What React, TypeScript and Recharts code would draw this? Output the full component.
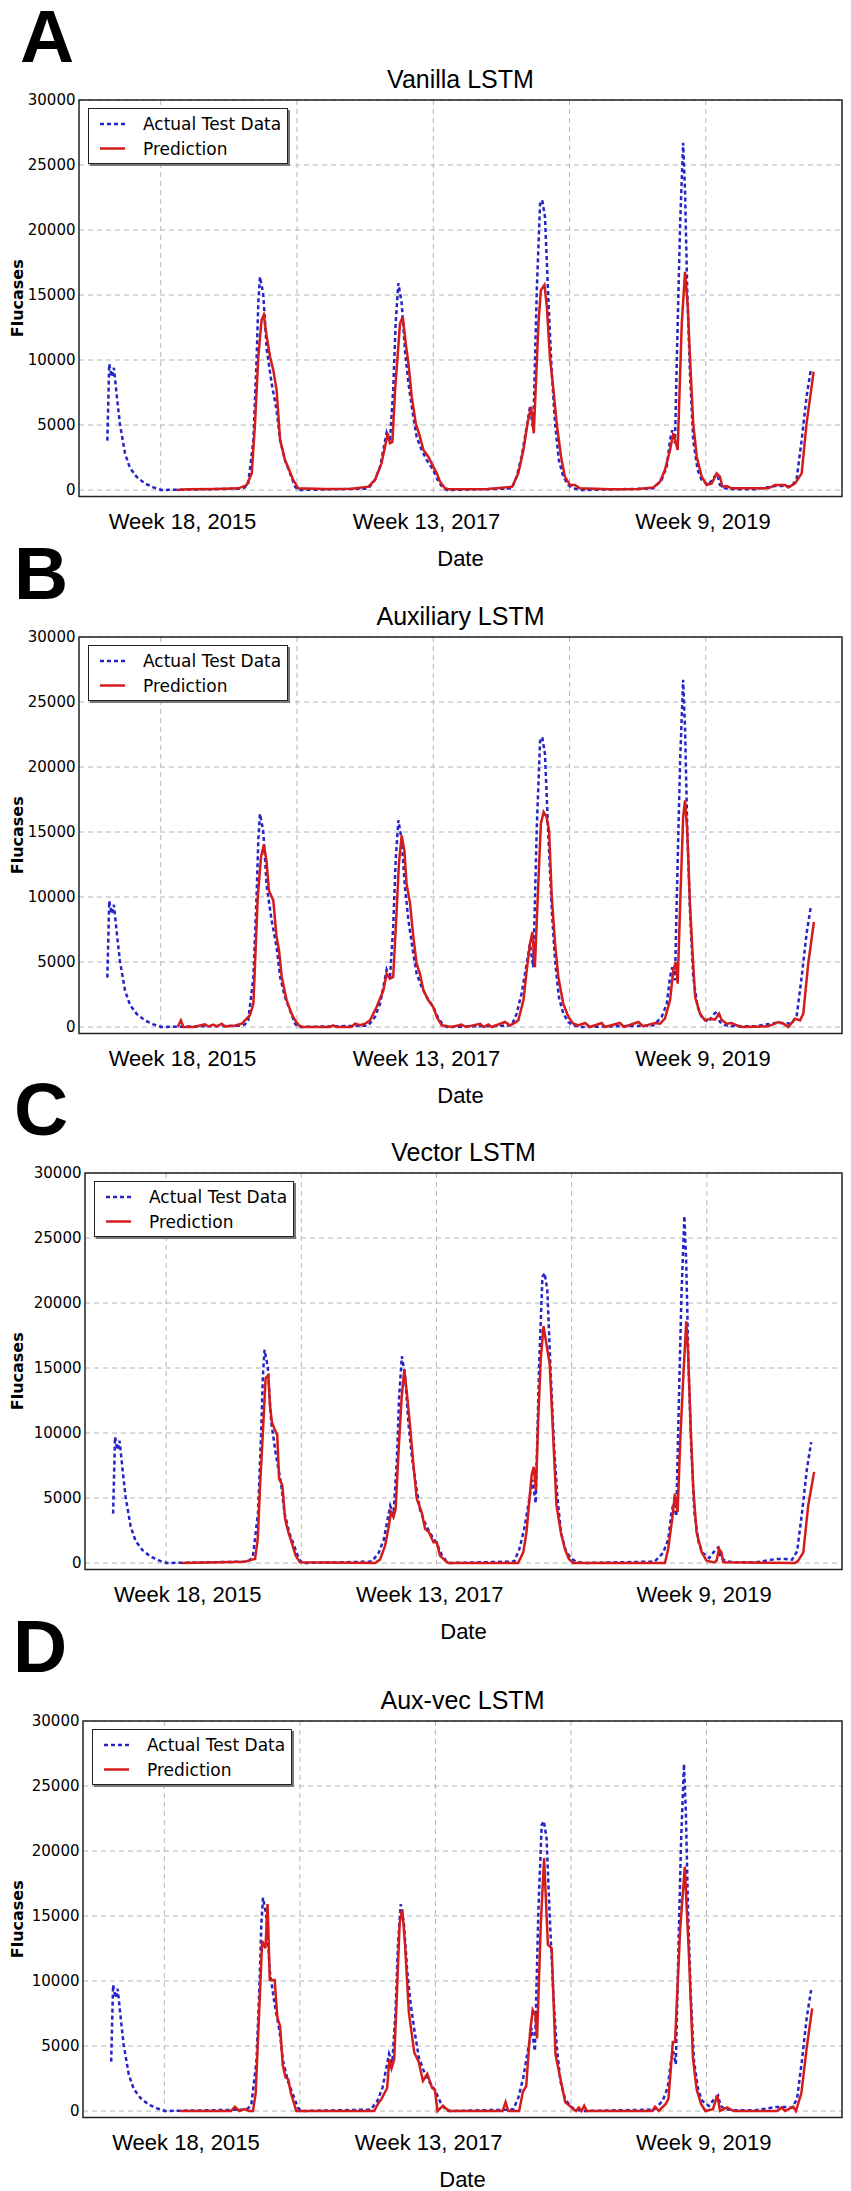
import { CartesianGrid, Line, LineChart, ReferenceArea, XAxis, YAxis } from "recharts"

// weekly flu cases, [week index, cases]
const actualCases: [number, number][] = [
  [30.4, 3800], [31.1, 9700], [32, 8700], [32.8, 9400], [34, 7000], [35, 5100], [36.9, 2800], [38.7, 1700],
  [41.2, 1000], [44.2, 500], [47.3, 200], [50.3, 0], [56, 20], [79, 100], [80.9, 200], [82.1, 500],
  [84, 3850], [85.2, 10250], [85.8, 14400], [86.4, 16400], [87.6, 15100], [88.9, 10800], [90.7, 8200],
  [92.5, 6150], [93.8, 3850], [95.6, 2300], [97.4, 1300], [99.3, 250], [100.5, 0], [125, 100], [126.2, 130],
  [128.6, 770], [130.5, 1800], [131.7, 3100], [132.9, 4400], [134.1, 3700], [135.3, 7700], [136.2, 12800],
  [137.2, 15900], [138.4, 14400], [139.6, 10800], [140.9, 8200], [142.3, 6150], [143.9, 4100], [145.7, 3100],
  [147.6, 2300], [150, 1550], [151.9, 650], [153.7, 130], [155, 0], [177, 100], [178.8, 130], [180.6, 1030],
  [182.4, 2560], [184.3, 4870], [185.5, 6400], [186.7, 4600], [188, 15400], [189.2, 22000], [190, 22300],
  [191, 21000], [192.2, 14900], [193.5, 9000], [194.7, 5100], [196.1, 2300], [197.7, 1030], [199.6, 380],
  [201.4, 130], [204.5, 0], [229, 100], [230.8, 130], [233.8, 770], [235.7, 1800], [236.9, 3850],
  [237.7, 4600], [238.7, 3600], [239.7, 12800], [240.6, 20500], [241.7, 26700], [242.4, 23000],
  [243.2, 15400], [244.2, 9000], [245.4, 3850], [247, 1550], [248.5, 770], [250.9, 380], [253.2, 1030],
  [254.3, 1200], [255.2, 385], [257.1, 130], [260.7, 50], [268, 50], [275.4, 300], [279, 300], [281.5, 250],
  [283.4, 900], [285.2, 3850], [287, 7200], [288.6, 9300],
]

const vanillaPred: [number, number][] = [
  [55.9, 0], [60, 50], [70, 80], [78.5, 130], [81.5, 380], [83.4, 1280], [84.6, 5130], [85.8, 10250],
  [87, 13080], [87.8, 13460], [88.9, 11800], [90.1, 10250], [91.3, 9230], [92.5, 7700], [93.8, 3850],
  [95.6, 2300], [97.4, 1400], [98.6, 770], [100.5, 130], [110, 80], [120, 100], [126.2, 256], [128.6, 770],
  [131, 2050], [132.3, 3330], [133.3, 4360], [134.1, 3600], [135, 3700], [136, 7700], [137.8, 12800],
  [138.8, 13330], [139.9, 11280], [140.9, 9740], [142.1, 7180], [143.6, 5130], [145.1, 4100], [146.4, 3080],
  [148.2, 2560], [150, 1800], [151.3, 1280], [152.5, 640], [154.3, 130], [156.1, 50], [170, 80], [179, 256],
  [181.2, 1280], [183.1, 3080], [184.6, 5130], [185.9, 6410], [186.9, 4360], [188.6, 12820], [189.5, 15380],
  [190.8, 15770], [191.7, 14100], [192.8, 10260], [194.1, 7700], [195.3, 5130], [196.9, 2560], [198.3, 1030],
  [200.2, 380], [202, 380], [203.8, 130], [215, 50], [225, 80], [230.8, 200], [233.2, 640], [235, 1540],
  [236.9, 3080], [238.1, 4360], [239.7, 3080], [241.2, 12820], [242.4, 16790], [243.4, 14100],
  [244.2, 10260], [245.4, 5130], [246.7, 2560], [248.5, 1030], [250.3, 385], [252.2, 510], [254, 1280],
  [255.2, 1030], [256.1, 256], [257.7, 300], [259.5, 130], [273, 130], [275.4, 385], [279.1, 385],
  [280.3, 200], [282.8, 510], [285.2, 1280], [287, 5130], [289.6, 9100],
]

const auxiliaryPred: [number, number][] = [
  [56.2, 0], [57.4, 510], [58.3, 0], [62, 0], [66.2, 200], [67.5, 50], [69.3, 180], [70.5, 30], [72.4, 250],
  [73.5, 50], [77, 100], [79.7, 250], [80.9, 510], [82.7, 900], [84, 1800], [84.6, 4870], [85.6, 10000],
  [86.8, 13080], [87.8, 14000], [88.8, 12820], [89.7, 10500], [91.3, 9740], [92.5, 6920], [93.4, 5900],
  [94.4, 3850], [96.2, 2050], [98, 1030], [99.3, 510], [100.7, 130], [102, 0], [112, 0], [113.3, 130],
  [114.5, 0], [120, 0], [121.3, 256], [123.1, 130], [125, 256], [126.8, 510], [129.2, 1540], [131.7, 2820],
  [132.9, 4100], [134.1, 3720], [135.3, 3850], [136.2, 7440], [137.4, 12560], [138.4, 14740], [139.4, 13590],
  [140.2, 11030], [141.5, 9490], [142.7, 6920], [143.9, 4870], [145.1, 4100], [146.4, 2820], [148.2, 2050],
  [150, 1540], [151.3, 770], [153.1, 130], [156.8, 0], [160.4, 180], [162, 0], [167.2, 250], [168.5, 0],
  [170.2, 200], [171.5, 0], [176.3, 385], [178.2, 130], [179.4, 250], [181.2, 510], [183.1, 2050],
  [184.3, 4360], [185.5, 6410], [186.4, 7300], [187.3, 4600], [188.6, 11280], [189.5, 15640], [190.5, 16540],
  [191.6, 16150], [192.5, 15130], [193.5, 10000], [194.7, 6410], [195.9, 3850], [197.7, 1800], [199.6, 770],
  [201.4, 256], [203.2, 130], [205.7, 310], [207.5, 0], [211.8, 310], [213, 0], [218.5, 310], [220, 0],
  [225.3, 385], [227.1, 50], [229.5, 200], [231.4, 310], [233.2, 256], [235, 640], [236.9, 2050],
  [238.1, 4360], [239, 5000], [239.7, 3330], [240.7, 10000], [241.7, 16150], [242.4, 17430], [243.2, 15130],
  [244.2, 9490], [245.1, 5900], [246.1, 2300], [247.9, 1030], [249.7, 510], [251.6, 640], [253.4, 560],
  [254.9, 1030], [255.8, 560], [257.7, 256], [259.5, 310], [261.3, 130], [263.2, 0], [273, 50],
  [276.6, 385], [278.5, 256], [280.3, 0], [282.8, 640], [284.6, 510], [285.8, 1030], [287.6, 4870],
  [289.7, 8080],
]

const vectorPred: [number, number][] = [
  [55.8, 0], [79.2, 100], [80.4, 180], [82.9, 310], [83.9, 1860], [84.7, 5720], [86, 10870], [86.8, 14220],
  [87.8, 14430], [88.4, 12160], [89.1, 10870], [90, 10360], [91.1, 9840], [91.8, 6490], [93, 5980],
  [94, 3400], [95.2, 2370], [96.4, 1600], [97.9, 570], [99.5, 50], [127.3, 0], [129.1, 260], [131, 1340],
  [132.2, 2630], [133.2, 3920], [134.1, 3530], [134.9, 4170], [135.9, 8300], [137.1, 12680], [138.1, 14870],
  [139, 13190], [140.2, 10620], [141.5, 7520], [142.7, 4950], [144.5, 3920], [145.8, 2630], [147.2, 2370],
  [148.9, 1600], [150.1, 1600], [151.3, 570], [153.2, 180], [154.4, 0], [180.2, 0], [182.1, 820],
  [183.3, 2370], [184.2, 4430], [185.2, 6750], [186, 7400], [186.8, 5590], [187.6, 10870], [188.6, 15770],
  [189.6, 18220], [190.7, 16800], [191.9, 15260], [193.2, 9590], [194.4, 4430], [196, 2370], [197.5, 1080],
  [199, 310], [200.6, 0], [234.5, 0], [235.7, 1080], [237.2, 3400], [238.2, 5330], [239.2, 3920],
  [240.2, 9590], [241.4, 14740], [242.4, 18600], [243.1, 16030], [244.1, 10100], [245, 5720], [246.2, 2370],
  [248.1, 820], [249.9, 180], [252.7, 50], [253.6, 180], [254.5, 1080], [255.4, 820], [256.1, 50],
  [282.6, 0], [283.8, 180], [285.7, 820], [287.5, 4430], [289.7, 7010],
]

const auxVecPred: [number, number][] = [
  [55.6, 0], [74.6, 0], [76, 330], [77.7, 0], [79.7, 140], [81.3, 0], [82.7, 0], [83.7, 1360],
  [86.1, 13070], [87.3, 12520], [88.1, 15920], [88.9, 10070], [90.7, 10070], [91.7, 7210], [92.7, 6530],
  [93.7, 3540], [94.7, 2590], [95.7, 2450], [96.7, 1360], [98.7, 0], [127.4, 0], [128.8, 540], [130.2, 950],
  [132.2, 1770], [133, 3950], [133.8, 3270], [134.8, 3950], [135.8, 8980], [136.8, 14430], [137.8, 15520],
  [138.8, 12790], [140.2, 7620], [142.2, 4490], [143.8, 3810], [145.4, 2310], [147, 2860], [148.8, 1770],
  [149.8, 1630], [150.8, 0], [152.8, 410], [154.2, 140], [155.5, 0], [174.8, 0], [175.9, 680], [176.9, 0],
  [180.9, 0], [182.3, 1500], [183.5, 1900], [184.9, 5990], [185.9, 7760], [186.9, 7350], [187.5, 5580],
  [188.9, 14430], [190.1, 19460], [191.5, 12790], [192.9, 12520], [194.3, 4360], [195.9, 2720],
  [197.9, 680], [199.5, 410], [200.9, 140], [201.9, 0], [202.9, 270], [203.9, 0], [204.9, 410], [205.9, 0],
  [230, 0], [231, 330], [232.4, 0], [235, 540], [236, 950], [237.6, 5310], [238.4, 5310], [240.3, 14000],
  [242, 18780], [243.6, 11700], [245, 4080], [246.4, 1630], [248, 540], [249.6, 0], [252.4, 140],
  [254, 1220], [255, 0], [257.6, 270], [260, 0], [276, 0], [277.7, 270], [279, 0], [282, 330], [283, 0],
  [285, 1360], [287, 4900], [289, 7900],
]

const panelLetters = ["A", "B", "C", "D"]
const panelTitles = ["Vanilla LSTM", "Auxiliary LSTM", "Vector LSTM", "Aux-vec LSTM"]
const predictions = [vanillaPred, auxiliaryPred, vectorPred, auxVecPred]

const tickWeeks = [58, 147.5, 249]
const tickLabels = ["Week 18, 2015", "Week 13, 2017", "Week 9, 2019"]
const gridWeeks = [50, 100, 150, 200, 250]
const yTicks = [0, 5000, 10000, 15000, 20000, 25000, 30000]
const legendLabels = ["Actual Test Data", "Prediction"]

// where each panel's plot box sits on the page
const layout = [
  { top: 100, left: 79, letterTop: 91.7, letterLeft: 20 },
  { top: 636.7, left: 79, letterTop: 91.7, letterLeft: 14 },
  { top: 1172.7, left: 85, letterTop: 91.7, letterLeft: 14 },
  { top: 1720.7, left: 83, letterTop: 102, letterLeft: 13 },
]

const BLUE = "#2424c8"
const RED = "#d41c1c"
const PLOT_RIGHT = 842
const PLOT_H = 396.5
const PAD = 20

const toRows = (pts: [number, number][]) => pts.map(([week, cases]) => ({ week, cases }))

const LegendBox = ({ left, top }: { left: number; top: number }) => (
  <svg
    width={200}
    height={56}
    style={{ position: "absolute", left, top, background: "#fff", boxShadow: "2px 2px 0 #777", border: "1.5px solid #222", boxSizing: "border-box" }}
  >
    <line x1={11} x2={36} y1={15} y2={15} stroke={BLUE} strokeWidth={2.5} strokeDasharray="4 3" />
    <line x1={11} x2={36} y1={39.5} y2={39.5} stroke={RED} strokeWidth={2.5} />
    <text x={54} y={21} fontFamily="DejaVu Sans" fontSize={17} fill="#000">{legendLabels[0]}</text>
    <text x={54} y={45.5} fontFamily="DejaVu Sans" fontSize={17} fill="#000">{legendLabels[1]}</text>
  </svg>
)

const Panel = ({ i }: { i: number }) => {
  const p = layout[i]
  return (
    <>
      <div
        style={{
          position: "absolute", left: p.letterLeft, top: p.top - p.letterTop - 0.3,
          fontFamily: "Liberation Sans", fontWeight: "bold", fontSize: 75, lineHeight: "56px", color: "#000",
        }}
      >
        {panelLetters[i]}
      </div>
      <div
        style={{
          position: "absolute", left: p.left, width: PLOT_RIGHT - p.left, top: p.top - 12 - 21.2,
          textAlign: "center", fontFamily: "Liberation Sans", fontSize: 25, lineHeight: "25px", color: "#000",
        }}
      >
        {panelTitles[i]}
      </div>
      <div style={{ position: "absolute", left: 0, top: p.top - PAD }}>
        <LineChart width={851} height={PAD + PLOT_H + 80} margin={{ top: PAD, right: 851 - PLOT_RIGHT, bottom: 0, left: 0 }}>
          <CartesianGrid stroke="#b4b4b4" strokeDasharray="5 4" horizontalValues={yTicks} verticalValues={gridWeeks} />
          <XAxis
            dataKey="week"
            type="number"
            domain={[20, 300]}
            allowDataOverflow
            ticks={tickWeeks}
            tickFormatter={(v: number) => tickLabels[tickWeeks.indexOf(v)]}
            axisLine={false}
            tickLine={false}
            tickSize={0}
            tickMargin={17}
            height={80}
            interval={0}
            tick={{ fontFamily: "Liberation Sans", fontSize: 22, fill: "#000" }}
            label={{ value: "Date", position: "insideBottom", offset: 10.7, style: { fontFamily: "Liberation Sans", fontSize: 22, fill: "#000" } }}
          />
          <YAxis
            type="number"
            domain={[-500, 30000]}
            allowDataOverflow
            ticks={yTicks}
            width={p.left}
            axisLine={false}
            tickLine={false}
            tickSize={0}
            tickMargin={3.5}
            interval={0}
            tick={{ fontFamily: "DejaVu Sans", fontSize: 15, fill: "#000" }}
            label={{
              value: "Flucases", angle: -90, position: "insideLeft", offset: 17,
              style: { textAnchor: "middle", fontFamily: "DejaVu Sans", fontWeight: "bold", fontSize: 16, fill: "#000" },
            }}
          />
          <Line data={toRows(actualCases)} dataKey="cases" type="linear" dot={false} stroke={BLUE} strokeWidth={2.5} strokeDasharray="4 3" isAnimationActive={false} />
          <Line data={toRows(predictions[i])} dataKey="cases" type="linear" dot={false} stroke={RED} strokeWidth={2.5} isAnimationActive={false} />
          <ReferenceArea x1={20} x2={300} y1={-500} y2={30000} fill="none" stroke="#222" strokeWidth={1.5} />
        </LineChart>
      </div>
      <LegendBox left={p.left + 9.3} top={p.top + 8.3} />
    </>
  )
}

export default function App() {
  return (
    <div style={{ position: "absolute", left: 0, top: 0, width: 851, height: 2191, background: "#fff" }}>
      {layout.map((_, i) => <Panel key={i} i={i} />)}
    </div>
  )
}
